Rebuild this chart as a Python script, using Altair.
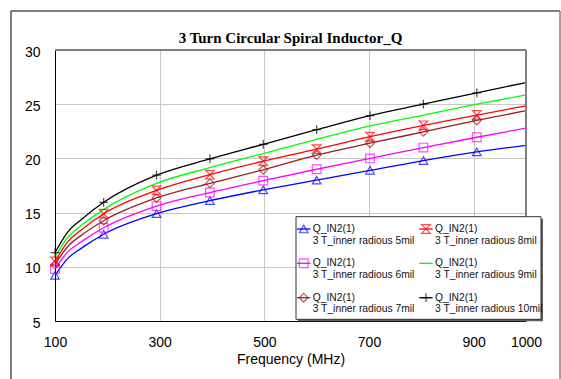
import altair as alt
import pandas as pd

# Sampled frequencies (MHz); marker_at flags the points that carry a symbol
freq_mhz = [100, 125, 150, 193, 294, 396, 498, 600, 702, 804, 906, 1000]
marker_at = [1, 0, 0, 1, 1, 1, 1, 1, 1, 1, 1, 0]

# Quality factor for each inner radius
q_5mil = [9.2, 10.8, 11.7, 13.0, 14.9, 16.1, 17.1, 18.0, 18.9, 19.8, 20.6, 21.2]
q_6mil = [9.8, 11.4, 12.3, 13.6, 15.6, 16.85, 17.95, 19.0, 20.0, 21.0, 21.95, 22.8]
q_7mil = [10.2, 11.9, 12.9, 14.25, 16.35, 17.7, 18.95, 20.3, 21.4, 22.45, 23.5, 24.4]
q_8mil = [10.5, 12.35, 13.4, 14.9, 17.05, 18.5, 19.75, 20.85, 22.0, 23.05, 24.0, 24.85]
q_9mil = [10.9, 12.75, 13.8, 15.3, 17.7, 19.15, 20.45, 21.75, 23.0, 24.0, 25.0, 25.85]
q_10mil = [11.3, 13.25, 14.35, 15.95, 18.45, 19.95, 21.3, 22.65, 23.95, 25.0, 26.05, 27.0]

series_values = [q_5mil, q_6mil, q_7mil, q_8mil, q_9mil, q_10mil]
series_labels = [
    "3 T_inner radious 5mil",
    "3 T_inner radious 6mil",
    "3 T_inner radious 7mil",
    "3 T_inner radious 8mil",
    "3 T_inner radious 9mil",
    "3 T_inner radious 10mil",
]
series_head = "Q_IN2(1)"
series_colors = ["#0000FF", "#FF00FF", "#9C1F1F", "#FF0000", "#00FF00", "#000000"]
HOURGLASS = "M-1,-1L1,-1L-1,1L1,1Z"
PLUS = "M0,-1L0,1M-1,0L1,0"
series_shapes = ["triangle-up", "square", "diamond", HOURGLASS, "", PLUS]

title_text = "3 Turn Circular Spiral Inductor_Q"
x_ticks = [100, 300, 500, 700, 900, 1000]
y_ticks = [5, 10, 15, 20, 25, 30]

W, H = 471, 271
SANS = "Liberation Sans"

rows = []
for label, vals, shape in zip(series_labels, series_values, series_shapes):
    for f, q, m in zip(freq_mhz, vals, marker_at):
        rows.append({"series": label, "freq": f, "q": q,
                     "marker": m == 1 and shape != ""})
df = pd.DataFrame(rows)

color_scale = alt.Scale(domain=series_labels, range=series_colors)
shape_scale = alt.Scale(domain=series_labels,
                        range=[s if s else "circle" for s in series_shapes])

x_enc = alt.X(
    "freq:Q",
    scale=alt.Scale(domain=[100, 1000], nice=False, zero=False),
    axis=alt.Axis(
        values=x_ticks, format="d", title="Frequency (MHz)", ticks=False,
        labelFont=SANS, labelFontSize=14, labelColor="#000000",
        labelPadding=14, labelFlush=False, labelOverlap=False,
        titleFont=SANS, titleFontSize=14, titleFontWeight="normal",
        titleColor="#000000", titlePadding=3,
        domainColor="#000000", domainWidth=1,
        gridColor="#C8C8C8", gridWidth=1,
    ),
)
y_enc = alt.Y(
    "q:Q",
    scale=alt.Scale(domain=[5, 30], nice=False, zero=False),
    axis=alt.Axis(
        values=y_ticks, format="d", title=None, ticks=False,
        labelFont=SANS, labelFontSize=14, labelColor="#000000",
        labelPadding=15, labelOffset=2, labelFlush=False,
        domainColor="#000000", domainWidth=1,
        gridColor="#C8C8C8", gridWidth=1,
    ),
)

base = alt.Chart(df)
lines = base.mark_line(interpolate="monotone", strokeWidth=1.3).encode(
    x=x_enc, y=y_enc,
    color=alt.Color("series:N", scale=color_scale, legend=None),
    detail="series:N",
)
points = base.transform_filter("datum.marker").mark_point(
    filled=False, strokeWidth=1.2, size=75
).encode(
    x=x_enc, y=y_enc,
    color=alt.Color("series:N", scale=color_scale, legend=None),
    shape=alt.Shape("series:N", scale=shape_scale, legend=None),
)

one = pd.DataFrame({"k": [0]})

# gray top and right edges of the plot frame
frame_top = alt.Chart(one).mark_rule(color="#808080", strokeWidth=2).encode(
    x=alt.value(0), x2=alt.value(W), y=alt.value(0))
frame_right = alt.Chart(one).mark_rule(color="#808080", strokeWidth=2).encode(
    x=alt.value(W), y=alt.value(0), y2=alt.value(H))

# outer border of the figure
outer_left = alt.Chart(one).mark_rule(color="#000000", strokeWidth=1).encode(
    x=alt.value(-44), y=alt.value(-39), y2=alt.value(340))
outer_top = alt.Chart(one).mark_rule(color="#000000", strokeWidth=1).encode(
    x=alt.value(-44), x2=alt.value(505), y=alt.value(-39))
outer_right = alt.Chart(one).mark_rule(color="#808080", strokeWidth=1.5).encode(
    x=alt.value(505), y=alt.value(-39), y2=alt.value(340))

title = alt.Chart(pd.DataFrame({"t": [title_text]})).mark_text(
    font="Liberation Serif", fontSize=15, fontWeight="bold",
    align="center", baseline="alphabetic", color="#000000"
).encode(x=alt.value(W / 2), y=alt.value(-6.7), text="t:N")

# legend box with drop shadow
BX0, BX1, BY0, BY1 = 241, 486, 166.7, 269.3
shadow = alt.Chart(one).mark_rect(fill="#606060").encode(
    x=alt.value(BX0 + 2), x2=alt.value(BX1 + 2),
    y=alt.value(BY0 + 2), y2=alt.value(BY1 + 2))
box = alt.Chart(one).mark_rect(fill="#FFFFFF", stroke="#303030", strokeWidth=1).encode(
    x=alt.value(BX0), x2=alt.value(BX1), y=alt.value(BY0), y2=alt.value(BY1))

col_x = [242, 364.3]
row_y = [179, 213.3, 247.7]
leg_rows = []
for i, (label, shape) in enumerate(zip(series_labels, series_shapes)):
    c, r = divmod(i, 3)
    x0 = col_x[c]
    leg_rows.append({
        "series": label, "head": series_head,
        "lx1": x0, "lx2": x0 + 13.4, "mx": x0 + 6.7, "tx": x0 + 15.7,
        "ly": row_y[r], "ly2": row_y[r] + 11.5, "marker": shape != "",
    })
leg = pd.DataFrame(leg_rows)
leg_base = alt.Chart(leg)
leg_lines = leg_base.mark_rule(strokeWidth=1.3).encode(
    x=alt.X("lx1:Q", scale=None), x2="lx2:Q", y=alt.Y("ly:Q", scale=None),
    color=alt.Color("series:N", scale=color_scale, legend=None))
leg_marks = leg_base.transform_filter("datum.marker").mark_point(
    filled=False, strokeWidth=1.2, size=75
).encode(
    x=alt.X("mx:Q", scale=None), y=alt.Y("ly:Q", scale=None),
    color=alt.Color("series:N", scale=color_scale, legend=None),
    shape=alt.Shape("series:N", scale=shape_scale, legend=None))
leg_head = leg_base.mark_text(
    font=SANS, fontSize=10.3, align="left", baseline="middle", color="#111111"
).encode(x=alt.X("tx:Q", scale=None), y=alt.Y("ly:Q", scale=None), text="head:N")
leg_label = leg_base.mark_text(
    font=SANS, fontSize=10.3, align="left", baseline="middle", color="#111111"
).encode(x=alt.X("tx:Q", scale=None), y=alt.Y("ly2:Q", scale=None), text="series:N")

chart = alt.layer(
    lines, points, frame_top, frame_right,
    shadow, box, leg_lines, leg_marks, leg_head, leg_label,
    outer_left, outer_top, outer_right, title,
).properties(
    width=W, height=H,
    padding={"left": 55, "top": 50, "right": 35, "bottom": 58},
    autosize=alt.AutoSizeParams(type="none"),
    background="#FFFFFF",
).configure_view(stroke=None)

chart.save("out.html", embed_options={"renderer": "svg", "actions": False})
